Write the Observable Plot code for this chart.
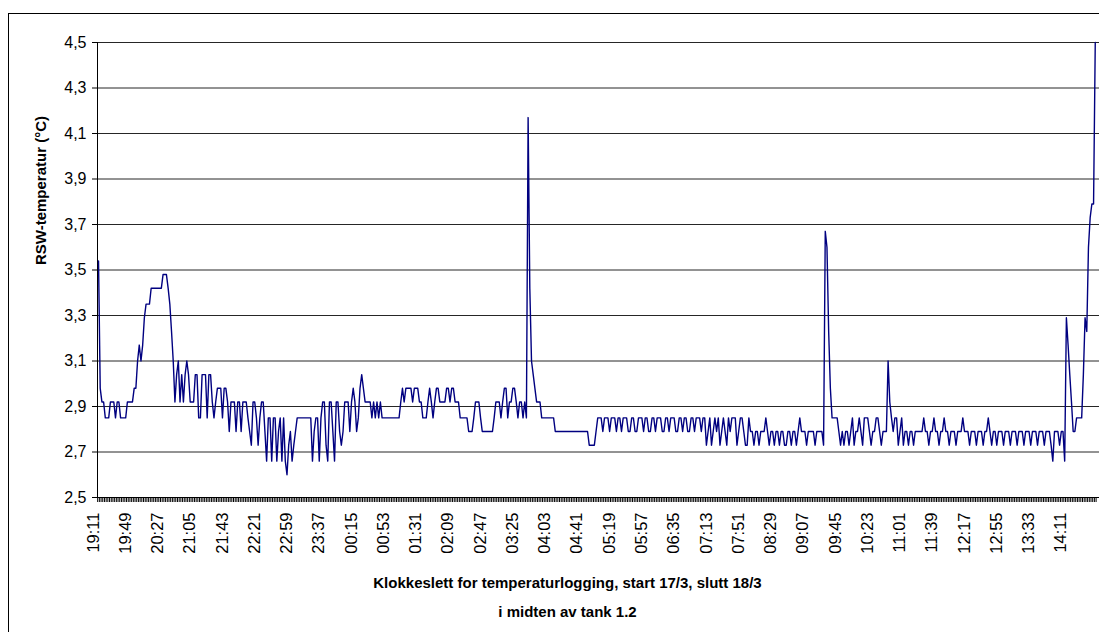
<!DOCTYPE html>
<html>
<head>
<meta charset="utf-8">
<script src="https://cdn.jsdelivr.net/npm/d3@7"></script>
<script src="https://cdn.jsdelivr.net/npm/@observablehq/plot@0.6"></script>
<style>
  html, body { margin: 0; padding: 0; background: #fff; width: 1099px; height: 632px; overflow: hidden; }
  #border { position: absolute; left: 8px; top: 13px; width: 1200px; height: 700px; border: 1px solid #000; box-sizing: border-box; }
  #chart { position: absolute; left: 0; top: 0; }
</style>
</head>
<body>
<div id="border"></div>
<div id="chart"></div>
<script>
// Time labels shown on the category axis (every 19th sample, 2-minute logging)
const timeLabels = ["19:11","19:49","20:27","21:05","21:43","22:21","22:59","23:37","00:15","00:53",
  "01:31","02:09","02:47","03:25","04:03","04:41","05:19","05:57","06:35","07:13",
  "07:51","08:29","09:07","09:45","10:23","11:01","11:39","12:17","12:55","13:33","14:11"];
const labelEvery = 19;

const temps = [
  3.54, 2.98, 2.92, 2.92, 2.85, 2.85, 2.85, 2.92, 2.92, 2.92,
  2.85, 2.92, 2.92, 2.85, 2.85, 2.85, 2.85, 2.92, 2.92, 2.92,
  2.92, 2.98, 2.98, 3.10, 3.17, 3.10, 3.17, 3.29, 3.35, 3.35,
  3.35, 3.42, 3.42, 3.42, 3.42, 3.42, 3.42, 3.42, 3.48, 3.48,
  3.48, 3.42, 3.35, 3.23, 3.10, 2.92, 3.04, 3.10, 2.92, 3.04,
  2.92, 3.04, 3.10, 3.04, 2.92, 2.92, 2.92, 3.04, 3.04, 2.85,
  2.85, 3.04, 3.04, 3.04, 2.85, 3.04, 3.04, 2.92, 2.85, 2.92,
  2.98, 2.98, 2.98, 2.85, 2.98, 2.98, 2.92, 2.79, 2.92, 2.92,
  2.92, 2.79, 2.92, 2.92, 2.79, 2.92, 2.92, 2.92, 2.85, 2.79,
  2.73, 2.92, 2.92, 2.85, 2.73, 2.85, 2.92, 2.92, 2.79, 2.66,
  2.85, 2.85, 2.66, 2.85, 2.85, 2.66, 2.79, 2.85, 2.66, 2.85,
  2.66, 2.60, 2.73, 2.79, 2.66, 2.73, 2.79, 2.85, 2.85, 2.85,
  2.85, 2.85, 2.85, 2.85, 2.85, 2.85, 2.66, 2.79, 2.85, 2.85,
  2.66, 2.85, 2.92, 2.92, 2.73, 2.66, 2.92, 2.92, 2.79, 2.66,
  2.92, 2.92, 2.79, 2.73, 2.79, 2.92, 2.92, 2.92, 2.79, 2.92,
  2.98, 2.92, 2.79, 2.85, 2.98, 3.04, 2.98, 2.92, 2.92, 2.92,
  2.92, 2.85, 2.92, 2.85, 2.92, 2.85, 2.92, 2.85, 2.85, 2.85,
  2.85, 2.85, 2.85, 2.85, 2.85, 2.85, 2.85, 2.85, 2.92, 2.98,
  2.92, 2.98, 2.98, 2.98, 2.98, 2.92, 2.98, 2.98, 2.98, 2.92,
  2.92, 2.85, 2.85, 2.85, 2.92, 2.98, 2.92, 2.85, 2.92, 2.98,
  2.98, 2.92, 2.92, 2.92, 2.92, 2.98, 2.98, 2.92, 2.98, 2.98,
  2.92, 2.92, 2.92, 2.85, 2.85, 2.85, 2.85, 2.85, 2.79, 2.79,
  2.79, 2.85, 2.92, 2.92, 2.92, 2.85, 2.79, 2.79, 2.79, 2.79,
  2.79, 2.79, 2.79, 2.85, 2.92, 2.92, 2.92, 2.85, 2.92, 2.98,
  2.98, 2.85, 2.92, 2.92, 2.98, 2.98, 2.92, 2.85, 2.92, 2.92,
  2.85, 2.92, 2.85, 4.17, 3.42, 3.10, 3.04, 2.98, 2.92, 2.92,
  2.92, 2.85, 2.85, 2.85, 2.85, 2.85, 2.85, 2.85, 2.85, 2.79,
  2.79, 2.79, 2.79, 2.79, 2.79, 2.79, 2.79, 2.79, 2.79, 2.79,
  2.79, 2.79, 2.79, 2.79, 2.79, 2.79, 2.79, 2.79, 2.79, 2.73,
  2.73, 2.73, 2.73, 2.79, 2.85, 2.85, 2.85, 2.79, 2.85, 2.85,
  2.85, 2.79, 2.85, 2.85, 2.85, 2.79, 2.85, 2.85, 2.79, 2.85,
  2.85, 2.85, 2.79, 2.79, 2.85, 2.85, 2.79, 2.79, 2.85, 2.85,
  2.85, 2.79, 2.85, 2.85, 2.79, 2.79, 2.85, 2.85, 2.79, 2.85,
  2.85, 2.85, 2.79, 2.79, 2.85, 2.85, 2.79, 2.85, 2.85, 2.85,
  2.79, 2.79, 2.85, 2.85, 2.79, 2.85, 2.85, 2.79, 2.79, 2.85,
  2.85, 2.79, 2.85, 2.85, 2.85, 2.79, 2.85, 2.85, 2.73, 2.79,
  2.85, 2.73, 2.79, 2.85, 2.79, 2.85, 2.73, 2.79, 2.85, 2.79,
  2.73, 2.85, 2.79, 2.85, 2.85, 2.85, 2.73, 2.79, 2.85, 2.85,
  2.79, 2.73, 2.73, 2.85, 2.79, 2.79, 2.73, 2.79, 2.79, 2.73,
  2.79, 2.79, 2.79, 2.85, 2.79, 2.73, 2.79, 2.79, 2.73, 2.79,
  2.79, 2.73, 2.79, 2.79, 2.73, 2.73, 2.79, 2.79, 2.73, 2.79,
  2.79, 2.73, 2.79, 2.85, 2.79, 2.79, 2.79, 2.73, 2.79, 2.79,
  2.79, 2.79, 2.73, 2.79, 2.79, 2.79, 2.79, 2.73, 3.67, 3.60,
  3.23, 2.98, 2.85, 2.85, 2.85, 2.85, 2.79, 2.73, 2.79, 2.73,
  2.79, 2.79, 2.73, 2.79, 2.85, 2.73, 2.79, 2.79, 2.85, 2.79,
  2.73, 2.85, 2.85, 2.85, 2.79, 2.73, 2.79, 2.79, 2.85, 2.85,
  2.79, 2.73, 2.79, 2.79, 2.79, 3.10, 2.92, 2.85, 2.79, 2.85,
  2.85, 2.73, 2.79, 2.85, 2.73, 2.79, 2.79, 2.73, 2.79, 2.79,
  2.73, 2.79, 2.79, 2.79, 2.79, 2.79, 2.85, 2.79, 2.79, 2.73,
  2.79, 2.79, 2.85, 2.79, 2.79, 2.73, 2.79, 2.79, 2.85, 2.79,
  2.79, 2.73, 2.79, 2.79, 2.79, 2.73, 2.79, 2.79, 2.79, 2.85,
  2.79, 2.79, 2.79, 2.73, 2.79, 2.79, 2.79, 2.73, 2.79, 2.79,
  2.79, 2.73, 2.79, 2.79, 2.85, 2.79, 2.73, 2.79, 2.79, 2.73,
  2.79, 2.79, 2.79, 2.73, 2.79, 2.79, 2.79, 2.73, 2.79, 2.79,
  2.79, 2.73, 2.79, 2.79, 2.79, 2.73, 2.79, 2.79, 2.79, 2.73,
  2.79, 2.79, 2.79, 2.73, 2.79, 2.79, 2.79, 2.73, 2.79, 2.79,
  2.79, 2.73, 2.66, 2.79, 2.79, 2.79, 2.73, 2.79, 2.79, 2.66,
  3.29, 3.17, 3.04, 2.92, 2.79, 2.79, 2.85, 2.85, 2.85, 2.85,
  3.04, 3.29, 3.23, 3.60, 3.73, 3.79, 3.79, 4.50
];

const yTicks = [2.5, 2.7, 2.9, 3.1, 3.3, 3.5, 3.7, 3.9, 4.1, 4.3, 4.5];
const yTitle = "RSW-temperatur (°C)";
const xTitle = ["Klokkeslett for temperaturlogging, start 17/3, slutt 18/3", "i midten av tank 1.2"];

const N = temps.length;
const idx = d3.range(N);
const boundaries = d3.range(N + 1).map(i => i - 0.5);
const labelIdx = timeLabels.map((_, k) => k * labelEvery);
const font = "'Liberation Sans', Arial, sans-serif";

const chart = Plot.plot({
  width: 1099,
  height: 632,
  marginLeft: 97,
  marginRight: 0,
  marginTop: 42,
  marginBottom: 135,
  style: { fontFamily: font, background: "transparent", color: "#000", overflow: "visible" },
  x: { type: "linear", domain: [-0.6, 589.5] },
  y: { domain: [2.5, 4.5] },
  marks: [
    Plot.gridY(yTicks, { stroke: "#000", strokeOpacity: 0.85, strokeWidth: 1 }),
    Plot.axisY({ ticks: yTicks, tickSize: 5, tickPadding: 6, fontSize: 16,
      tickFormat: d => d.toFixed(1).replace(".", ","), label: null }),
    Plot.axisX({ ticks: boundaries, tickSize: 5, tickFormat: () => "", label: null, strokeWidth: 1 }),
    Plot.ruleY([2.5], { stroke: "#000" }),
    Plot.ruleX([-0.6], { stroke: "#000" }),
    Plot.text(timeLabels, { x: (d, k) => labelIdx[k], frameAnchor: "bottom", text: d => d,
      rotate: -90, textAnchor: "end", dy: 15, fontSize: 16.5, fill: "#000" }),
    Plot.lineY(temps, { x: (d, i) => idx[i], y: d => d, stroke: "#000080", strokeWidth: 1.4 }),
    Plot.text([yTitle], { text: d => d, frameAnchor: "left", rotate: -90, dx: -56, dy: -5,
      fontWeight: "bold", fontSize: 15, fill: "#000" }),
    Plot.text([xTitle[0]], { text: d => d, frameAnchor: "bottom", dx: -31, dy: 90,
      fontWeight: "bold", fontSize: 15, fill: "#000" }),
    Plot.text([xTitle[1]], { text: d => d, frameAnchor: "bottom", dx: -31, dy: 119,
      fontWeight: "bold", fontSize: 15, fill: "#000" })
  ]
});
document.getElementById("chart").appendChild(chart);
</script>
</body>
</html>
